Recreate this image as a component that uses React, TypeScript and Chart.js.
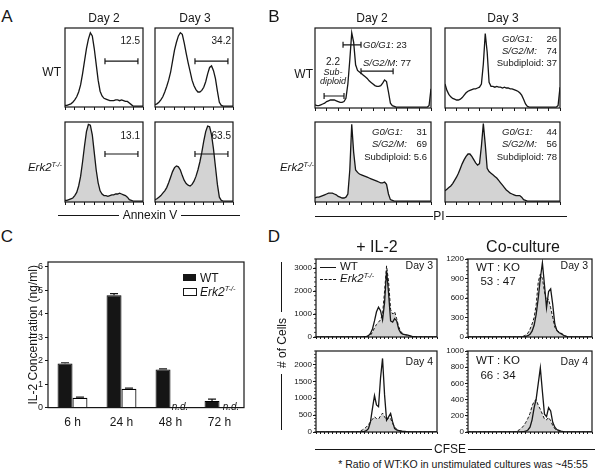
import React, { useEffect, useRef } from "react";
import { Chart, registerables } from "chart.js";

Chart.register(...registerables);

const FONT = "'Liberation Sans', Arial, Helvetica, sans-serif";
const INK = "#161616";
const FILL = "#d3d3d3";

// ---------- Panel A: Annexin V histograms (41 bins, % of max) ----------
const annexinWtDay2 = [2, 2, 3, 4, 6, 9, 13, 19, 28, 42, 58, 74, 86, 94, 90, 74, 54, 34, 20, 14, 11, 10, 9, 8, 8, 8, 9, 9, 8, 9, 8, 7, 7, 5, 3, 1, 1, 1, 1, 1, 1];
const annexinWtDay3 = [3, 4, 6, 9, 13, 19, 26, 34, 44, 58, 72, 82, 90, 94, 92, 81, 68, 56, 45, 34, 27, 22, 19, 19, 21, 25, 32, 42, 50, 52, 46, 36, 20, 6, 2, 1, 1, 1, 1, 1, 1];
const annexinKoDay2 = [2, 2, 3, 4, 5, 8, 12, 20, 32, 50, 70, 88, 97, 96, 84, 62, 40, 24, 14, 10, 8, 8, 7, 8, 9, 9, 10, 10, 11, 10, 9, 8, 6, 3, 2, 1, 1, 1, 1, 1, 1];
const annexinKoDay3 = [3, 4, 6, 8, 11, 14, 18, 24, 31, 38, 43, 45, 44, 40, 33, 27, 23, 21, 20, 22, 26, 32, 40, 50, 62, 76, 88, 95, 94, 84, 66, 44, 22, 6, 2, 1, 1, 1, 1, 1, 1];
const annexinPercents = ["12.5", "34.2", "13.1", "63.5"];

// ---------- Panel B: PI histograms (61 bins, % of max) ----------
const piWtDay2 = [4, 3, 3, 4, 5, 6, 8, 9, 10, 10, 10, 9, 8, 7, 7, 8, 12, 30, 60, 94, 82, 54, 47, 45, 43, 41, 39, 37, 34, 32, 30, 28, 27, 27, 28, 31, 35, 33, 20, 6, 3, 2, 1, 1, 1, 1, 1, 1, 1, 1, 1, 1, 1, 1, 1, 1, 1, 1, 1, 3, 24];
const piWtDay3 = [30, 22, 17, 14, 12, 11, 10, 10, 11, 13, 16, 19, 21, 22, 23, 24, 24, 25, 26, 30, 55, 93, 70, 32, 27, 27, 26, 27, 26, 26, 25, 26, 25, 25, 24, 24, 23, 22, 21, 19, 16, 11, 5, 2, 1, 1, 1, 1, 1, 1, 1, 1, 1, 1, 1, 1, 1, 1, 1, 3, 26];
const piKoDay2 = [5, 6, 6, 7, 8, 9, 10, 11, 11, 11, 10, 9, 7, 6, 5, 5, 6, 10, 40, 97, 62, 40, 37, 35, 34, 33, 32, 31, 30, 29, 28, 27, 26, 25, 24, 24, 25, 22, 10, 3, 2, 1, 1, 1, 1, 1, 1, 1, 1, 1, 1, 1, 1, 1, 1, 1, 1, 1, 1, 1, 1];
const piKoDay3 = [14, 16, 18, 20, 23, 27, 31, 36, 42, 48, 53, 57, 60, 60, 57, 53, 49, 46, 48, 70, 98, 72, 42, 38, 36, 34, 32, 30, 27, 24, 21, 18, 15, 13, 11, 10, 9, 8, 8, 8, 6, 3, 2, 1, 1, 1, 1, 1, 1, 1, 1, 1, 1, 1, 1, 1, 1, 1, 1, 1, 1];
const piWtDay2Stats = ["2.2", "23", "77"];
const piWtDay3Stats = ["26", "74", "37"];
const piKoDay2Stats = ["31", "69", "5.6"];
const piKoDay3Stats = ["44", "56", "78"];

// ---------- Panel C: IL-2 concentration ----------
const il2Times = ["6 h", "24 h", "48 h", "72 h"];
const il2Wt = [1.88, 4.78, 1.62, 0.28];
const il2WtErr = [0.03, 0.07, 0.03, 0.08];
const il2Ko: (number | null)[] = [0.42, 0.8, null, null];
const il2KoErr: (number | null)[] = [0.03, 0.03, null, null];
const il2Ticks = [0, 1, 2, 3, 4, 5, 6];

// ---------- Panel D: CFSE histograms (61 bins, # of cells) ----------
const cfseIl2Day3Wt = [0, 0, 0, 0, 0, 0, 0, 0, 0, 0, 0, 0, 0, 0, 0, 0, 0, 0, 0, 0, 0, 0, 0, 0, 10, 20, 60, 150, 350, 700, 1100, 1300, 1150, 750, 1500, 2900, 1900, 700, 650, 800, 700, 350, 180, 120, 100, 90, 70, 40, 20, 10, 0, 0, 0, 0, 0, 0, 0, 0, 0, 0, 0];
const cfseIl2Day3Ko = [0, 0, 0, 0, 0, 0, 0, 0, 0, 0, 0, 0, 0, 0, 0, 0, 0, 0, 0, 0, 0, 0, 0, 0, 5, 10, 30, 80, 200, 400, 550, 650, 750, 1000, 2000, 3100, 2400, 1200, 1000, 1100, 800, 450, 250, 150, 110, 80, 60, 40, 20, 10, 0, 0, 0, 0, 0, 0, 0, 0, 0, 0, 0];
const cfseIl2Day4Wt = [0, 0, 0, 0, 0, 0, 0, 0, 0, 0, 0, 0, 0, 0, 0, 0, 0, 0, 0, 0, 0, 0, 0, 10, 20, 40, 100, 300, 700, 1080, 800, 750, 1600, 2180, 1100, 350, 450, 550, 300, 100, 60, 40, 30, 20, 15, 10, 5, 0, 0, 0, 0, 0, 0, 0, 0, 0, 0, 0, 0, 0, 0];
const cfseIl2Day4Ko = [0, 0, 0, 0, 0, 0, 0, 0, 0, 0, 0, 0, 0, 0, 0, 0, 0, 0, 0, 0, 0, 10, 30, 60, 100, 150, 220, 300, 380, 450, 400, 380, 480, 560, 450, 350, 420, 400, 250, 150, 80, 50, 30, 20, 10, 5, 0, 0, 0, 0, 0, 0, 0, 0, 0, 0, 0, 0, 0, 0, 0];
const cfseCoDay3Wt = [0, 0, 0, 0, 0, 0, 0, 0, 0, 0, 0, 0, 0, 0, 0, 0, 0, 0, 0, 0, 0, 0, 0, 0, 0, 0, 0, 5, 10, 20, 40, 90, 180, 350, 600, 900, 1140, 800, 450, 700, 740, 500, 200, 100, 70, 50, 30, 15, 5, 0, 0, 0, 0, 0, 0, 0, 0, 0, 0, 0, 0];
const cfseCoDay3Ko = [0, 0, 0, 0, 0, 0, 0, 0, 0, 0, 0, 0, 0, 0, 0, 0, 0, 0, 0, 0, 0, 0, 0, 0, 0, 0, 5, 15, 30, 60, 120, 200, 300, 500, 850, 970, 900, 700, 550, 580, 450, 300, 150, 100, 80, 60, 40, 20, 5, 0, 0, 0, 0, 0, 0, 0, 0, 0, 0, 0, 0];
const cfseCoDay4Wt = [0, 0, 0, 0, 0, 0, 0, 0, 0, 0, 0, 0, 0, 0, 0, 0, 0, 0, 0, 0, 0, 0, 0, 0, 0, 0, 0, 5, 10, 25, 60, 150, 300, 410, 600, 790, 500, 220, 190, 300, 260, 120, 60, 30, 20, 10, 5, 0, 0, 0, 0, 0, 0, 0, 0, 0, 0, 0, 0, 0, 0];
const cfseCoDay4Ko = [0, 0, 0, 0, 0, 0, 0, 0, 0, 0, 0, 0, 0, 0, 0, 0, 0, 0, 0, 0, 0, 0, 0, 5, 15, 30, 50, 80, 120, 170, 230, 320, 380, 400, 330, 280, 220, 160, 150, 180, 140, 80, 40, 20, 10, 5, 0, 0, 0, 0, 0, 0, 0, 0, 0, 0, 0, 0, 0, 0, 0];
const cfseIl2Day3Ticks = [0, 1000, 2000, 3000];
const cfseIl2Day4Ticks = [0, 500, 1000, 1500, 2000];
const cfseCoDay3Ticks = [0, 300, 600, 900, 1200];
const cfseCoDay4Ticks = [0, 200, 400, 600, 800, 1000];
const coRatioDay3 = ["53", "47"];
const coRatioDay4 = ["66", "34"];

type Series = { values: number[]; fill?: boolean; dashed?: boolean };
type Gate = { from: number; to: number; y: number };
type HistProps = {
  box: [number, number, number, number];
  series: Series[];
  yMax: number;
  yTicks?: number[];
  xStep: number;
  tickLen: number;
  gates?: Gate[];
};

function makeFrame(gates: Gate[], minorTicks: boolean = false) {
  return {
    id: "frame",
    afterDatasetsDraw(chart: any) {
      const { ctx, chartArea: a } = chart;
      ctx.save();
      ctx.strokeStyle = INK;
      ctx.lineWidth = 1.2;
      ctx.setLineDash([]);
      ctx.strokeRect(a.left, a.top, a.right - a.left, a.bottom - a.top);
      const xs = chart.scales.x;
      const ys = chart.scales.y;
      gates.forEach((g) => {
        const x1 = xs.getPixelForValue(g.from);
        const x2 = xs.getPixelForValue(g.to);
        const y = ys.getPixelForValue(g.y);
        ctx.beginPath();
        ctx.moveTo(x1, y);
        ctx.lineTo(x2, y);
        ctx.moveTo(x1, y - 3);
        ctx.lineTo(x1, y + 3);
        ctx.moveTo(x2, y - 3);
        ctx.lineTo(x2, y + 3);
        ctx.stroke();
      });
      if (minorTicks && ys.ticks.length > 1) {
        // minor ticks: five subdivisions between labelled ticks
        const step = (ys.ticks[1].value - ys.ticks[0].value) / 5;
        ctx.lineWidth = 0.8;
        ctx.beginPath();
        for (let v = 0; v <= ys.max + 1e-9; v += step) {
          const y = ys.getPixelForValue(v);
          ctx.moveTo(a.left - 2, y);
          ctx.lineTo(a.left, y);
        }
        ctx.stroke();
      }
      ctx.restore();
    },
  };
}

function Hist({ box, series, yMax, yTicks, xStep, tickLen, gates = [] }: HistProps) {
  const ref = useRef<HTMLCanvasElement>(null);
  const PAD = 6;
  const yW = yTicks ? 27 : 0;
  const [bx, by, bw, bh] = box;
  const cw = bw + 2 * PAD + yW;
  const ch = bh + 2 * PAD + tickLen;
  useEffect(() => {
    const n = series[0].values.length;
    const chart = new Chart(ref.current as HTMLCanvasElement, {
      type: "line",
      data: {
        datasets: series.map((s) => ({
          data: s.values.map((v, i) => ({ x: i, y: v })),
          borderColor: INK,
          borderWidth: s.dashed ? 1 : 1.3,
          borderDash: s.dashed ? [3, 2] : [],
          fill: s.fill ? "origin" : false,
          backgroundColor: FILL,
          pointRadius: 0,
          tension: 0,
        })),
      },
      options: {
        responsive: false,
        maintainAspectRatio: false,
        animation: false,
        devicePixelRatio: 1,
        layout: { padding: { left: PAD, right: PAD, top: PAD, bottom: PAD } },
        plugins: { legend: { display: false }, tooltip: { enabled: false } },
        scales: {
          x: {
            type: "linear",
            min: 0,
            max: n - 1,
            border: { display: false },
            grid: { display: true, drawOnChartArea: false, drawTicks: true, tickLength: tickLen, color: INK, lineWidth: 1 },
            ticks: { display: false, stepSize: xStep },
          },
          y: {
            display: !!yTicks,
            min: 0,
            max: yMax,
            border: { display: false },
            grid: { display: true, drawOnChartArea: false, drawTicks: true, tickLength: 3, color: INK, lineWidth: 1 },
            ticks: { font: { family: FONT, size: 8 }, color: INK, padding: 1, autoSkip: false, callback: (v: any) => String(v) },
            afterBuildTicks: (s: any) => {
              if (yTicks) s.ticks = yTicks.map((v) => ({ value: v }));
            },
            afterFit: (s: any) => {
              s.width = yW;
            },
          },
        },
      } as any,
      plugins: [makeFrame(gates, !!yTicks)],
    });
    return () => chart.destroy();
  }, []);
  return (
    <canvas
      ref={ref}
      width={cw}
      height={ch}
      style={{ position: "absolute", left: bx - PAD - yW, top: by - PAD, width: cw, height: ch }}
    />
  );
}

function BarPanel() {
  const ref = useRef<HTMLCanvasElement>(null);
  useEffect(() => {
    const errorPlugin = {
      id: "errs",
      afterDatasetsDraw(chart: any) {
        const { ctx } = chart;
        const ys = chart.scales.y;
        ctx.save();
        ctx.strokeStyle = INK;
        ctx.lineWidth = 1.2;
        [il2WtErr, il2KoErr].forEach((errs, d) => {
          const meta = chart.getDatasetMeta(d);
          const vals = chart.data.datasets[d].data;
          meta.data.forEach((el: any, i: number) => {
            const v = vals[i];
            const e = errs[i];
            if (v == null || e == null) return;
            const yTop = ys.getPixelForValue(v + e);
            const yBase = ys.getPixelForValue(v);
            ctx.beginPath();
            ctx.moveTo(el.x, yBase);
            ctx.lineTo(el.x, yTop);
            ctx.moveTo(el.x - 4, yTop);
            ctx.lineTo(el.x + 4, yTop);
            ctx.stroke();
          });
        });
        ctx.restore();
      },
    };
    const chart = new Chart(ref.current as HTMLCanvasElement, {
      type: "bar",
      data: {
        labels: il2Times,
        datasets: [
          { label: "WT", data: il2Wt, backgroundColor: "#151515", borderColor: "#000", borderWidth: 1, categoryPercentage: 0.61, barPercentage: 1 },
          { label: "Erk2", data: il2Ko, backgroundColor: "#ffffff", borderColor: "#000", borderWidth: 1.2, categoryPercentage: 0.61, barPercentage: 1 },
        ],
      },
      options: {
        responsive: false,
        maintainAspectRatio: false,
        animation: false,
        devicePixelRatio: 1,
        layout: { padding: { left: 0, right: 6, top: 10, bottom: 4 } },
        plugins: { legend: { display: false }, tooltip: { enabled: false } },
        scales: {
          x: {
            grid: { display: false, drawTicks: false },
            border: { display: false },
            ticks: { font: { family: FONT, size: 12 }, color: INK, padding: 8 },
          },
          y: {
            min: 0,
            max: 6.2,
            border: { display: false },
            grid: { display: true, drawOnChartArea: false, drawTicks: true, tickLength: 3, color: INK },
            ticks: { font: { family: FONT, size: 9 }, color: INK, padding: 2 },
            afterBuildTicks: (s: any) => {
              s.ticks = il2Ticks.map((v) => ({ value: v }));
            },
            title: { display: true, text: "IL-2 Concentration (ng/ml)", font: { family: FONT, size: 12 }, color: INK, padding: { top: 12, bottom: 0 } },
            afterFit: (s: any) => {
              s.width = 34;
            },
          },
        },
      } as any,
      plugins: [makeFrame([]), errorPlugin],
    });
    return () => chart.destroy();
  }, []);
  return <canvas ref={ref} width={236} height={190} style={{ position: "absolute", left: 14, top: 252, width: 236, height: 190 }} />;
}

type TP = { x: number; y: number; s?: number; a?: "l" | "c" | "r"; i?: boolean; rot?: boolean; children: React.ReactNode };
function T({ x, y, s = 11, a = "c", i = false, rot = false, children }: TP) {
  const tx = a === "l" ? "0" : a === "r" ? "-100%" : "-50%";
  return (
    <div
      style={{
        position: "absolute",
        left: x,
        top: y,
        fontSize: s,
        fontStyle: i ? "italic" : "normal",
        lineHeight: 1,
        whiteSpace: "nowrap",
        color: INK,
        transform: `translate(${tx},-50%)${rot ? " rotate(-90deg)" : ""}`,
      }}
    >
      {children}
    </div>
  );
}

function HL({ x1, x2, y, dashed = false }: { x1: number; x2: number; y: number; dashed?: boolean }) {
  return (
    <div
      style={{
        position: "absolute",
        left: x1,
        top: y,
        width: x2 - x1,
        height: 0,
        borderTop: `1.2px ${dashed ? "dashed" : "solid"} ${INK}`,
      }}
    />
  );
}
function VL({ x, y1, y2 }: { x: number; y1: number; y2: number }) {
  return <div style={{ position: "absolute", left: x, top: y1, width: 0, height: y2 - y1, borderLeft: `1.2px solid ${INK}` }} />;
}

const Sup = () => (
  <span style={{ fontSize: "0.62em", position: "relative", top: "-0.55em" }}>T-/-</span>
);
const Erk2 = () => (
  <>
    Erk2
    <Sup />
  </>
);

export default function App() {
  const aGate = (y: number): Gate[] => [{ from: 20.5, to: 37.4, y }];
  return (
    <div
      style={{
        position: "absolute",
        left: 0,
        top: 0,
        width: 600,
        height: 472,
        background: "#fff",
        overflow: "hidden",
        fontFamily: FONT,
        color: INK,
      }}
    >
      {/* Panel A */}
      <Hist box={[65, 28, 78, 79]} series={[{ values: annexinWtDay2 }]} yMax={100} xStep={5} tickLen={3} gates={aGate(58)} />
      <Hist box={[155, 28, 78, 79]} series={[{ values: annexinWtDay3 }]} yMax={100} xStep={5} tickLen={3} gates={aGate(58)} />
      <Hist box={[65, 122, 78, 80]} series={[{ values: annexinKoDay2, fill: true }]} yMax={100} xStep={5} tickLen={3} gates={aGate(60)} />
      <Hist box={[155, 122, 78, 80]} series={[{ values: annexinKoDay3, fill: true }]} yMax={100} xStep={5} tickLen={3} gates={aGate(60)} />

      {/* Panel B */}
      <Hist
        box={[315, 28, 116, 80]}
        series={[{ values: piWtDay2 }]}
        yMax={100}
        xStep={6}
        tickLen={3}
        gates={[
          { from: 4.7, to: 15, y: 15 },
          { from: 14.5, to: 23.8, y: 79 },
          { from: 23.8, to: 40.4, y: 46 },
        ]}
      />
      <Hist box={[445, 28, 115, 80]} series={[{ values: piWtDay3 }]} yMax={100} xStep={6} tickLen={3} />
      <Hist box={[315, 122, 116, 80]} series={[{ values: piKoDay2, fill: true }]} yMax={100} xStep={6} tickLen={3} />
      <Hist box={[445, 122, 115, 80]} series={[{ values: piKoDay3, fill: true }]} yMax={100} xStep={6} tickLen={3} />

      {/* Panel C */}
      <BarPanel />

      {/* Panel D */}
      <Hist
        box={[316, 259, 121, 78]}
        series={[{ values: cfseIl2Day3Wt }, { values: cfseIl2Day3Ko, fill: true, dashed: true }]}
        yMax={3400}
        yTicks={cfseIl2Day3Ticks}
        xStep={2}
        tickLen={2}
      />
      <Hist
        box={[316, 351, 121, 81]}
        series={[{ values: cfseIl2Day4Wt }, { values: cfseIl2Day4Ko, fill: true, dashed: true }]}
        yMax={2400}
        yTicks={cfseIl2Day4Ticks}
        xStep={2}
        tickLen={2}
      />
      <Hist
        box={[468, 259, 124, 78]}
        series={[{ values: cfseCoDay3Wt }, { values: cfseCoDay3Ko, fill: true, dashed: true }]}
        yMax={1200}
        yTicks={cfseCoDay3Ticks}
        xStep={2}
        tickLen={2}
      />
      <Hist
        box={[468, 351, 124, 81]}
        series={[{ values: cfseCoDay4Wt }, { values: cfseCoDay4Ko, fill: true, dashed: true }]}
        yMax={1000}
        yTicks={cfseCoDay4Ticks}
        xStep={2}
        tickLen={2}
      />

      {/* Panel A text */}
      <T x={7} y={16} s={17}>A</T>
      <T x={104} y={18} s={12}>Day 2</T>
      <T x={195} y={18} s={12}>Day 3</T>
      <T x={61} y={72} s={12} a="r">WT</T>
      <T x={62} y={168} s={11.5} a="r" i>
        <Erk2 />
      </T>
      <T x={140} y={41} s={10} a="r">{annexinPercents[0]}</T>
      <T x={231} y={41} s={10} a="r">{annexinPercents[1]}</T>
      <T x={140} y={136} s={10} a="r">{annexinPercents[2]}</T>
      <T x={231} y={136} s={10} a="r">{annexinPercents[3]}</T>
      <HL x1={58} x2={119} y={215} />
      <HL x1={181} x2={240} y={215} />
      <T x={150} y={215} s={12}>Annexin V</T>

      {/* Panel B text */}
      <T x={274} y={16} s={17}>B</T>
      <T x={372} y={18} s={12}>Day 2</T>
      <T x={503} y={18} s={12}>Day 3</T>
      <T x={313} y={74} s={12} a="r">WT</T>
      <T x={314} y={168} s={11.5} a="r" i>
        <Erk2 />
      </T>
      <T x={333} y={62} s={10}>{piWtDay2Stats[0]}</T>
      <T x={333} y={72} s={9} i>Sub-</T>
      <T x={333} y={81} s={9} i>diploid</T>
      <T x={363} y={45} s={9.5} a="l">
        <i>G0/G1</i>: {piWtDay2Stats[1]}
      </T>
      <T x={363} y={63} s={9.5} a="l">
        <i>S/G2/M</i>: {piWtDay2Stats[2]}
      </T>

      <T x={502} y={39} s={9.5} a="l" i>G0/G1:</T>
      <T x={557} y={39} s={9.5} a="r">{piWtDay3Stats[0]}</T>
      <T x={502} y={51} s={9.5} a="l" i>S/G2/M:</T>
      <T x={557} y={51} s={9.5} a="r">{piWtDay3Stats[1]}</T>
      <T x={557} y={63} s={9.5} a="r">Subdiploid: {piWtDay3Stats[2]}</T>

      <T x={372} y={132} s={9.5} a="l" i>G0/G1:</T>
      <T x={427} y={132} s={9.5} a="r">{piKoDay2Stats[0]}</T>
      <T x={372} y={144} s={9.5} a="l" i>S/G2/M:</T>
      <T x={427} y={144} s={9.5} a="r">{piKoDay2Stats[1]}</T>
      <T x={427} y={157} s={9.5} a="r">Subdiploid: {piKoDay2Stats[2]}</T>

      <T x={502} y={132} s={9.5} a="l" i>G0/G1:</T>
      <T x={557} y={132} s={9.5} a="r">{piKoDay3Stats[0]}</T>
      <T x={502} y={144} s={9.5} a="l" i>S/G2/M:</T>
      <T x={557} y={144} s={9.5} a="r">{piKoDay3Stats[1]}</T>
      <T x={557} y={157} s={9.5} a="r">Subdiploid: {piKoDay3Stats[2]}</T>

      <HL x1={315} x2={433} y={216} />
      <HL x1={446} x2={567} y={216} />
      <T x={439} y={216} s={12}>PI</T>

      {/* Panel C text */}
      <T x={7} y={236} s={17}>C</T>
      <div style={{ position: "absolute", left: 183, top: 274, width: 13, height: 7, background: "#151515" }} />
      <T x={200} y={277.5} s={12} a="l">WT</T>
      <div style={{ position: "absolute", left: 183, top: 288, width: 12, height: 6, background: "#fff", border: `1px solid ${INK}` }} />
      <T x={200} y={291.5} s={12} a="l" i>
        <Erk2 />
      </T>
      <T x={180} y={407} s={10} i>n.d.</T>
      <T x={231} y={407} s={10} i>n.d.</T>

      {/* Panel D text */}
      <T x={274} y={236} s={17}>D</T>
      <T x={377} y={247} s={16}>+ IL-2</T>
      <T x={523} y={247} s={16}>Co-culture</T>
      <HL x1={320} x2={336} y={267} />
      <T x={340} y={267} s={11.5} a="l">WT</T>
      <HL x1={320} x2={336} y={279} dashed />
      <T x={340} y={279} s={11.5} a="l" i>
        <Erk2 />
      </T>
      <T x={433} y={265} s={10.5} a="r">Day 3</T>
      <T x={588} y={265} s={10.5} a="r">Day 3</T>
      <T x={498} y={268} s={11.5}>WT : KO</T>
      <T x={498} y={282} s={11.5}>{coRatioDay3[0]} : {coRatioDay3[1]}</T>
      <T x={433} y={361} s={10.5} a="r">Day 4</T>
      <T x={588} y={361} s={10.5} a="r">Day 4</T>
      <T x={498} y={361} s={11.5}>WT : KO</T>
      <T x={498} y={376} s={11.5}>{coRatioDay4[0]} : {coRatioDay4[1]}</T>
      <VL x={281} y1={262} y2={312} />
      <VL x={281} y1={374} y2={430} />
      <T x={282} y={343} s={12} rot>
        # of Cells
      </T>
      <HL x1={315} x2={432} y={449} />
      <HL x1={468} x2={595} y={449} />
      <T x={450} y={449} s={12}>CFSE</T>
      <T x={463} y={464} s={10.5}>* Ratio of WT:KO in unstimulated cultures was ~45:55</T>
    </div>
  );
}
